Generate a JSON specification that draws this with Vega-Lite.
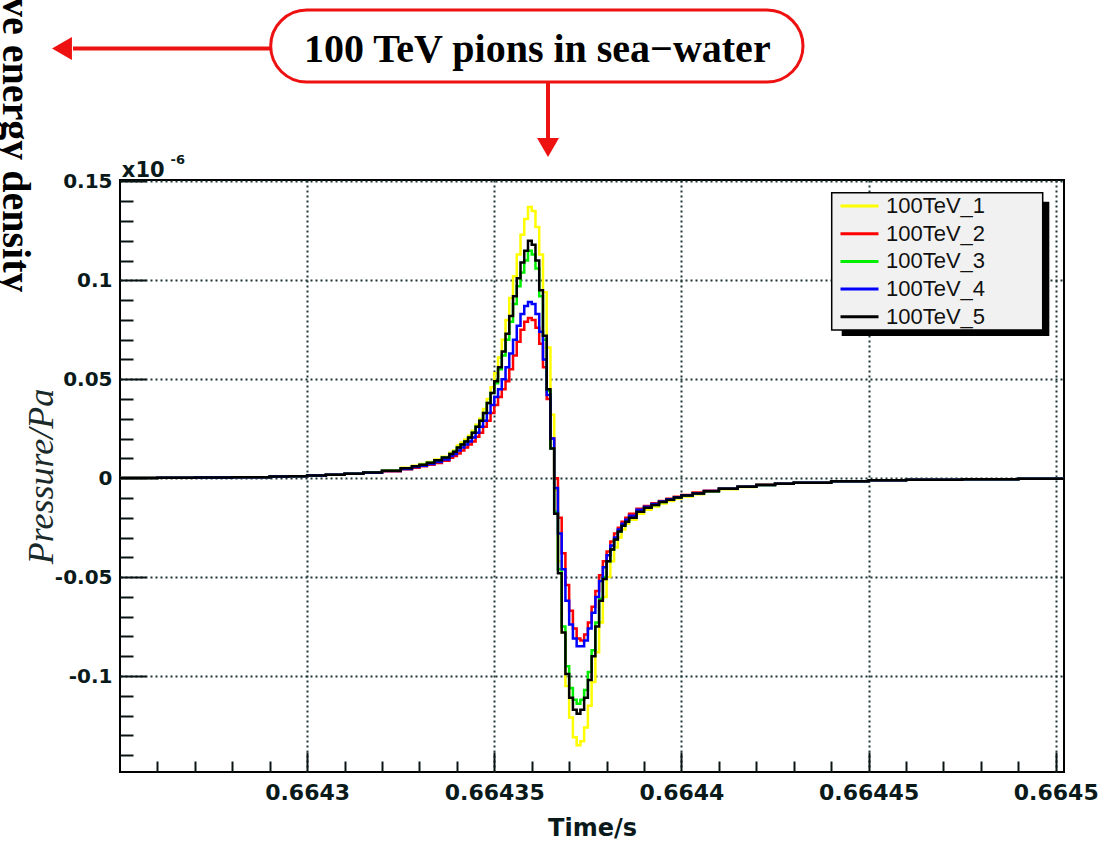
{
"$schema": "https://vega.github.io/schema/vega-lite/v6.json",
"width": 944,
"height": 592,
"autosize": {"type": "none"},
"padding": {"left": 120, "top": 180, "right": 35, "bottom": 70},
"background": "white",
"config": {"view": {"stroke": "#000000", "strokeWidth": 2}},
"resolve": {"axis": {"x": "independent", "y": "independent"}},
"layer": [
{
"data": {"values": [
{"t":0.66425,"100TeV_1":0.0001,"100TeV_2":0.0001,"100TeV_3":0.0001,"100TeV_4":0.0001,"100TeV_5":0.0001},
{"t":0.66426,"100TeV_1":0.0002,"100TeV_2":0.0002,"100TeV_3":0.0002,"100TeV_4":0.0002,"100TeV_5":0.0002},
{"t":0.66427,"100TeV_1":0.0003,"100TeV_2":0.0003,"100TeV_3":0.0003,"100TeV_4":0.0003,"100TeV_5":0.0003},
{"t":0.66428,"100TeV_1":0.0005,"100TeV_2":0.0005,"100TeV_3":0.0005,"100TeV_4":0.0005,"100TeV_5":0.0005},
{"t":0.66429,"100TeV_1":0.0008,"100TeV_2":0.0008,"100TeV_3":0.0008,"100TeV_4":0.0008,"100TeV_5":0.0008},
{"t":0.664295,"100TeV_1":0.001,"100TeV_2":0.001,"100TeV_3":0.001,"100TeV_4":0.001,"100TeV_5":0.001},
{"t":0.6643,"100TeV_1":0.0013,"100TeV_2":0.0013,"100TeV_3":0.0013,"100TeV_4":0.0013,"100TeV_5":0.0013},
{"t":0.664305,"100TeV_1":0.0017,"100TeV_2":0.0017,"100TeV_3":0.0017,"100TeV_4":0.0017,"100TeV_5":0.0017},
{"t":0.66431,"100TeV_1":0.0022,"100TeV_2":0.0022,"100TeV_3":0.0022,"100TeV_4":0.0022,"100TeV_5":0.0022},
{"t":0.664315,"100TeV_1":0.003,"100TeV_2":0.0027,"100TeV_3":0.0029,"100TeV_4":0.0028,"100TeV_5":0.0029},
{"t":0.66432,"100TeV_1":0.004,"100TeV_2":0.0035,"100TeV_3":0.0038,"100TeV_4":0.0036,"100TeV_5":0.0038},
{"t":0.664325,"100TeV_1":0.0053,"100TeV_2":0.0045,"100TeV_3":0.005,"100TeV_4":0.0047,"100TeV_5":0.005},
{"t":0.664328,"100TeV_1":0.0063,"100TeV_2":0.0053,"100TeV_3":0.006,"100TeV_4":0.0056,"100TeV_5":0.006},
{"t":0.66433,"100TeV_1":0.0072,"100TeV_2":0.006,"100TeV_3":0.0068,"100TeV_4":0.0063,"100TeV_5":0.0068},
{"t":0.664332,"100TeV_1":0.0082,"100TeV_2":0.0068,"100TeV_3":0.0078,"100TeV_4":0.0072,"100TeV_5":0.0078},
{"t":0.664334,"100TeV_1":0.0094,"100TeV_2":0.0077,"100TeV_3":0.009,"100TeV_4":0.0082,"100TeV_5":0.009},
{"t":0.664336,"100TeV_1":0.0108,"100TeV_2":0.0088,"100TeV_3":0.0104,"100TeV_4":0.0095,"100TeV_5":0.0104},
{"t":0.664338,"100TeV_1":0.0128,"100TeV_2":0.0103,"100TeV_3":0.0122,"100TeV_4":0.0112,"100TeV_5":0.0122},
{"t":0.664339,"100TeV_1":0.014,"100TeV_2":0.0112,"100TeV_3":0.0133,"100TeV_4":0.0122,"100TeV_5":0.0133},
{"t":0.66434,"100TeV_1":0.0165,"100TeV_2":0.0125,"100TeV_3":0.0155,"100TeV_4":0.014,"100TeV_5":0.0155},
{"t":0.664341,"100TeV_1":0.018,"100TeV_2":0.014,"100TeV_3":0.017,"100TeV_4":0.0155,"100TeV_5":0.017},
{"t":0.664342,"100TeV_1":0.0195,"100TeV_2":0.0155,"100TeV_3":0.0185,"100TeV_4":0.017,"100TeV_5":0.0185},
{"t":0.664343,"100TeV_1":0.0215,"100TeV_2":0.017,"100TeV_3":0.0205,"100TeV_4":0.0185,"100TeV_5":0.0205},
{"t":0.664344,"100TeV_1":0.024,"100TeV_2":0.0185,"100TeV_3":0.023,"100TeV_4":0.0205,"100TeV_5":0.023},
{"t":0.664345,"100TeV_1":0.027,"100TeV_2":0.021,"100TeV_3":0.026,"100TeV_4":0.023,"100TeV_5":0.026},
{"t":0.664346,"100TeV_1":0.03,"100TeV_2":0.023,"100TeV_3":0.029,"100TeV_4":0.026,"100TeV_5":0.029},
{"t":0.664347,"100TeV_1":0.035,"100TeV_2":0.026,"100TeV_3":0.033,"100TeV_4":0.029,"100TeV_5":0.033},
{"t":0.664348,"100TeV_1":0.04,"100TeV_2":0.029,"100TeV_3":0.038,"100TeV_4":0.033,"100TeV_5":0.038},
{"t":0.664349,"100TeV_1":0.046,"100TeV_2":0.033,"100TeV_3":0.043,"100TeV_4":0.037,"100TeV_5":0.043},
{"t":0.66435,"100TeV_1":0.053,"100TeV_2":0.037,"100TeV_3":0.048,"100TeV_4":0.041,"100TeV_5":0.049},
{"t":0.664351,"100TeV_1":0.061,"100TeV_2":0.041,"100TeV_3":0.055,"100TeV_4":0.045,"100TeV_5":0.056},
{"t":0.664352,"100TeV_1":0.07,"100TeV_2":0.045,"100TeV_3":0.062,"100TeV_4":0.05,"100TeV_5":0.064},
{"t":0.664353,"100TeV_1":0.08,"100TeV_2":0.049,"100TeV_3":0.07,"100TeV_4":0.056,"100TeV_5":0.073},
{"t":0.664354,"100TeV_1":0.091,"100TeV_2":0.055,"100TeV_3":0.079,"100TeV_4":0.063,"100TeV_5":0.082},
{"t":0.664355,"100TeV_1":0.102,"100TeV_2":0.062,"100TeV_3":0.088,"100TeV_4":0.07,"100TeV_5":0.092},
{"t":0.664356,"100TeV_1":0.113,"100TeV_2":0.069,"100TeV_3":0.097,"100TeV_4":0.077,"100TeV_5":0.101},
{"t":0.664357,"100TeV_1":0.123,"100TeV_2":0.075,"100TeV_3":0.104,"100TeV_4":0.083,"100TeV_5":0.109},
{"t":0.664358,"100TeV_1":0.131,"100TeV_2":0.079,"100TeV_3":0.11,"100TeV_4":0.087,"100TeV_5":0.115},
{"t":0.664359,"100TeV_1":0.137,"100TeV_2":0.081,"100TeV_3":0.115,"100TeV_4":0.089,"100TeV_5":0.12},
{"t":0.66436,"100TeV_1":0.135,"100TeV_2":0.08,"100TeV_3":0.113,"100TeV_4":0.088,"100TeV_5":0.118},
{"t":0.664361,"100TeV_1":0.127,"100TeV_2":0.076,"100TeV_3":0.106,"100TeV_4":0.083,"100TeV_5":0.11},
{"t":0.664362,"100TeV_1":0.113,"100TeV_2":0.068,"100TeV_3":0.092,"100TeV_4":0.074,"100TeV_5":0.095},
{"t":0.664363,"100TeV_1":0.094,"100TeV_2":0.056,"100TeV_3":0.07,"100TeV_4":0.06,"100TeV_5":0.072},
{"t":0.664364,"100TeV_1":0.066,"100TeV_2":0.04,"100TeV_3":0.044,"100TeV_4":0.042,"100TeV_5":0.045},
{"t":0.664365,"100TeV_1":0.032,"100TeV_2":0.02,"100TeV_3":0.015,"100TeV_4":0.02,"100TeV_5":0.015},
{"t":0.664366,"100TeV_1":-0.006,"100TeV_2":0.0,"100TeV_3":-0.017,"100TeV_4":-0.005,"100TeV_5":-0.018},
{"t":0.664367,"100TeV_1":-0.042,"100TeV_2":-0.02,"100TeV_3":-0.046,"100TeV_4":-0.028,"100TeV_5":-0.048},
{"t":0.664368,"100TeV_1":-0.078,"100TeV_2":-0.038,"100TeV_3":-0.075,"100TeV_4":-0.046,"100TeV_5":-0.078},
{"t":0.664369,"100TeV_1":-0.105,"100TeV_2":-0.054,"100TeV_3":-0.095,"100TeV_4":-0.062,"100TeV_5":-0.099},
{"t":0.66437,"100TeV_1":-0.121,"100TeV_2":-0.067,"100TeV_3":-0.106,"100TeV_4":-0.074,"100TeV_5":-0.111},
{"t":0.664371,"100TeV_1":-0.131,"100TeV_2":-0.076,"100TeV_3":-0.112,"100TeV_4":-0.081,"100TeV_5":-0.117},
{"t":0.664372,"100TeV_1":-0.135,"100TeV_2":-0.081,"100TeV_3":-0.114,"100TeV_4":-0.085,"100TeV_5":-0.119},
{"t":0.664373,"100TeV_1":-0.133,"100TeV_2":-0.082,"100TeV_3":-0.112,"100TeV_4":-0.085,"100TeV_5":-0.117},
{"t":0.664374,"100TeV_1":-0.126,"100TeV_2":-0.079,"100TeV_3":-0.107,"100TeV_4":-0.082,"100TeV_5":-0.111},
{"t":0.664375,"100TeV_1":-0.115,"100TeV_2":-0.073,"100TeV_3":-0.098,"100TeV_4":-0.076,"100TeV_5":-0.102},
{"t":0.664376,"100TeV_1":-0.103,"100TeV_2":-0.065,"100TeV_3":-0.087,"100TeV_4":-0.068,"100TeV_5":-0.09},
{"t":0.664377,"100TeV_1":-0.088,"100TeV_2":-0.057,"100TeV_3":-0.073,"100TeV_4":-0.06,"100TeV_5":-0.075},
{"t":0.664378,"100TeV_1":-0.073,"100TeV_2":-0.049,"100TeV_3":-0.061,"100TeV_4":-0.052,"100TeV_5":-0.062},
{"t":0.664379,"100TeV_1":-0.06,"100TeV_2":-0.042,"100TeV_3":-0.05,"100TeV_4":-0.045,"100TeV_5":-0.051},
{"t":0.66438,"100TeV_1":-0.05,"100TeV_2":-0.037,"100TeV_3":-0.042,"100TeV_4":-0.039,"100TeV_5":-0.042},
{"t":0.664381,"100TeV_1":-0.042,"100TeV_2":-0.032,"100TeV_3":-0.036,"100TeV_4":-0.034,"100TeV_5":-0.036},
{"t":0.664382,"100TeV_1":-0.035,"100TeV_2":-0.028,"100TeV_3":-0.031,"100TeV_4":-0.03,"100TeV_5":-0.031},
{"t":0.664383,"100TeV_1":-0.03,"100TeV_2":-0.025,"100TeV_3":-0.027,"100TeV_4":-0.026,"100TeV_5":-0.027},
{"t":0.664384,"100TeV_1":-0.026,"100TeV_2":-0.022,"100TeV_3":-0.024,"100TeV_4":-0.023,"100TeV_5":-0.024},
{"t":0.664385,"100TeV_1":-0.023,"100TeV_2":-0.02,"100TeV_3":-0.022,"100TeV_4":-0.021,"100TeV_5":-0.022},
{"t":0.664386,"100TeV_1":-0.021,"100TeV_2":-0.018,"100TeV_3":-0.02,"100TeV_4":-0.019,"100TeV_5":-0.02},
{"t":0.664388,"100TeV_1":-0.018,"100TeV_2":-0.0155,"100TeV_3":-0.017,"100TeV_4":-0.016,"100TeV_5":-0.017},
{"t":0.66439,"100TeV_1":-0.016,"100TeV_2":-0.014,"100TeV_3":-0.015,"100TeV_4":-0.0145,"100TeV_5":-0.015},
{"t":0.664392,"100TeV_1":-0.0143,"100TeV_2":-0.0127,"100TeV_3":-0.0135,"100TeV_4":-0.013,"100TeV_5":-0.0135},
{"t":0.664394,"100TeV_1":-0.0128,"100TeV_2":-0.0115,"100TeV_3":-0.0121,"100TeV_4":-0.0118,"100TeV_5":-0.0121},
{"t":0.664396,"100TeV_1":-0.0115,"100TeV_2":-0.0104,"100TeV_3":-0.0109,"100TeV_4":-0.0107,"100TeV_5":-0.0109},
{"t":0.664398,"100TeV_1":-0.0103,"100TeV_2":-0.0094,"100TeV_3":-0.0098,"100TeV_4":-0.0096,"100TeV_5":-0.0098},
{"t":0.6644,"100TeV_1":-0.0092,"100TeV_2":-0.0085,"100TeV_3":-0.0088,"100TeV_4":-0.0086,"100TeV_5":-0.0088},
{"t":0.664403,"100TeV_1":-0.0081,"100TeV_2":-0.0073,"100TeV_3":-0.0078,"100TeV_4":-0.0076,"100TeV_5":-0.0078},
{"t":0.664406,"100TeV_1":-0.0069,"100TeV_2":-0.0063,"100TeV_3":-0.0066,"100TeV_4":-0.0065,"100TeV_5":-0.0066},
{"t":0.66441,"100TeV_1":-0.0056,"100TeV_2":-0.0052,"100TeV_3":-0.0054,"100TeV_4":-0.0053,"100TeV_5":-0.0054},
{"t":0.664415,"100TeV_1":-0.0044,"100TeV_2":-0.0042,"100TeV_3":-0.0043,"100TeV_4":-0.0043,"100TeV_5":-0.0043},
{"t":0.66442,"100TeV_1":-0.0035,"100TeV_2":-0.0033,"100TeV_3":-0.0034,"100TeV_4":-0.0034,"100TeV_5":-0.0034},
{"t":0.664425,"100TeV_1":-0.0028,"100TeV_2":-0.0027,"100TeV_3":-0.0028,"100TeV_4":-0.0028,"100TeV_5":-0.0028},
{"t":0.66443,"100TeV_1":-0.0023,"100TeV_2":-0.0023,"100TeV_3":-0.0023,"100TeV_4":-0.0023,"100TeV_5":-0.0023},
{"t":0.66444,"100TeV_1":-0.0016,"100TeV_2":-0.0016,"100TeV_3":-0.0016,"100TeV_4":-0.0016,"100TeV_5":-0.0016},
{"t":0.66445,"100TeV_1":-0.0011,"100TeV_2":-0.0011,"100TeV_3":-0.0011,"100TeV_4":-0.0011,"100TeV_5":-0.0011},
{"t":0.66446,"100TeV_1":-0.0008,"100TeV_2":-0.0008,"100TeV_3":-0.0008,"100TeV_4":-0.0008,"100TeV_5":-0.0008},
{"t":0.664475,"100TeV_1":-0.0005,"100TeV_2":-0.0005,"100TeV_3":-0.0005,"100TeV_4":-0.0005,"100TeV_5":-0.0005},
{"t":0.66449,"100TeV_1":-0.0003,"100TeV_2":-0.0003,"100TeV_3":-0.0003,"100TeV_4":-0.0003,"100TeV_5":-0.0003},
{"t":0.6645022,"100TeV_1":-0.0002,"100TeV_2":-0.0002,"100TeV_3":-0.0002,"100TeV_4":-0.0002,"100TeV_5":-0.0002}
]},
"transform": [{"fold": ["100TeV_1","100TeV_2","100TeV_3","100TeV_4","100TeV_5"], "as": ["series","pressure"]}],
"mark": {"type": "line", "interpolate": "step-after", "strokeWidth": 2.5, "clip": true},
"encoding": {
"x": {"field": "t", "type": "quantitative",
"scale": {"domain": [0.66425, 0.6645022], "nice": false, "zero": false},
"axis": {
"orient": "bottom",
"values": [0.6643, 0.66435, 0.6644, 0.66445, 0.6645],
"labelExpr": "format(datum.value, '.5~f')",
"grid": true, "gridColor": "#1e3535", "gridDash": [2,3], "gridWidth": 2,
"tickSize": -20, "tickColor": "#0a1414", "tickWidth": 2, "domain": false,
"labelFont": "DejaVu Sans", "labelFontWeight": "bold", "labelFontSize": 22, "labelColor": "#0a1a1a",
"labelPadding": 30, "labelOverlap": false, "labelFlush": false,
"title": "Time/s", "titleFont": "DejaVu Sans", "titleFontWeight": "bold", "titleFontSize": 24, "titleColor": "#0a1a1a", "titlePadding": 13
}},
"y": {"field": "pressure", "type": "quantitative",
"scale": {"domain": [-0.1485, 0.1507], "nice": false, "zero": false},
"axis": {
"orient": "left",
"values": [-0.1, -0.05, 0, 0.05, 0.1, 0.15],
"labelExpr": "datum.value < 0 ? '-' + format(-datum.value, '.2~f') : format(datum.value, '.2~f')",
"grid": true, "gridColor": "#1e3535", "gridDash": [2,3], "gridWidth": 2,
"tickSize": -26, "tickColor": "#0a1414", "tickWidth": 2, "domain": false,
"labelFont": "DejaVu Sans", "labelFontWeight": "bold", "labelFontSize": 20, "labelColor": "#0a1a1a",
"labelPadding": 34, "labelOverlap": false, "labelFlush": false,
"title": "Pressure/Pa", "titleFont": "Liberation Serif", "titleFontStyle": "italic", "titleFontWeight": "normal", "titleFontSize": 36, "titleColor": "#1a2a2a", "titlePadding": -6
}},
"color": {"field": "series", "type": "nominal",
"scale": {"domain": ["100TeV_1","100TeV_2","100TeV_3","100TeV_4","100TeV_5"], "range": ["#ffff00","#ff0000","#00ee00","#0000ff","#000000"]},
"legend": {"orient": "none", "legendX": 719, "legendY": 14, "title": null, "padding": 0,
"symbolType": "stroke", "symbolSize": 1444, "symbolStrokeWidth": 3, "clipHeight": 24,
"labelFont": "Liberation Sans", "labelFontSize": 22, "labelColor": "#111111", "labelOffset": 6, "rowPadding": 3.7}
}
}
},
{
"data": {"values": [{}]},
"mark": {"type": "rect", "fill": "#000000"},
"encoding": {
"x": {"datum": 0.66444281, "type": "quantitative",
"axis": {"orient": "bottom", "values": [0.66426,0.66427,0.66428,0.66429,0.66431,0.66432,0.66433,0.66434,0.66436,0.66437,0.66438,0.66439,0.66441,0.66442,0.66443,0.66444,0.66446,0.66447,0.66448,0.66449],
"labels": false, "grid": false, "domain": false, "title": null, "tickSize": -11, "tickColor": "#0a1414", "tickWidth": 2}},
"x2": {"datum": 0.66449828},
"y": {"datum": 0.13973, "type": "quantitative",
"axis": {"orient": "left", "values": [-0.14,-0.13,-0.12,-0.11,-0.09,-0.08,-0.07,-0.06,-0.04,-0.03,-0.02,-0.01,0.01,0.02,0.03,0.04,0.06,0.07,0.08,0.09,0.11,0.12,0.13,0.14],
"labels": false, "grid": false, "domain": false, "title": null, "tickSize": -13, "tickColor": "#0a1414", "tickWidth": 2}},
"y2": {"datum": 0.07186}
}
},
{
"data": {"values": [{}]},
"mark": {"type": "rect", "fill": "#f1f1f1", "stroke": "#000000", "strokeWidth": 1.5},
"encoding": {
"x": {"datum": 0.66444014, "type": "quantitative", "axis": null},
"x2": {"datum": 0.66449651},
"y": {"datum": 0.14428, "type": "quantitative", "axis": null},
"y2": {"datum": 0.07489}
}
},
{
"data": {"values": [{}]},
"mark": {"type": "rect", "cornerRadius": 36, "fill": "#ffffff", "stroke": "#ee1111", "strokeWidth": 3},
"encoding": {
"x": {"datum": 0.66429026, "type": "quantitative", "axis": null},
"x2": {"datum": 0.66443247},
"y": {"datum": 0.2366, "type": "quantitative", "axis": null},
"y2": {"datum": 0.2002}
}
},
{
"data": {"values": [{}]},
"mark": {"type": "text", "text": "100 TeV pions in sea\u2212water", "font": "Liberation Serif", "fontWeight": "bold", "fontSize": 40, "align": "center", "baseline": "alphabetic", "color": "#000000"},
"encoding": {
"x": {"datum": 0.6643615, "type": "quantitative", "axis": null},
"y": {"datum": 0.2105, "type": "quantitative", "axis": null}
}
},
{
"data": {"values": [{}]},
"mark": {"type": "rule", "color": "#ee1111", "strokeWidth": 4},
"encoding": {
"x": {"datum": 0.66423744, "type": "quantitative", "axis": null},
"x2": {"datum": 0.66429026},
"y": {"datum": 0.2172, "type": "quantitative", "axis": null}
}
},
{
"data": {"values": [{}]},
"mark": {"type": "point", "shape": "triangle-left", "filled": true, "size": 529, "color": "#ee1111", "opacity": 1},
"encoding": {
"x": {"datum": 0.6642345, "type": "quantitative", "axis": null},
"y": {"datum": 0.2172, "type": "quantitative", "axis": null}
}
},
{
"data": {"values": [{}]},
"mark": {"type": "rule", "color": "#ee1111", "strokeWidth": 4},
"encoding": {
"x": {"datum": 0.66436435, "type": "quantitative", "axis": null},
"y": {"datum": 0.2002, "type": "quantitative", "axis": null},
"y2": {"datum": 0.1709}
}
},
{
"data": {"values": [{}]},
"mark": {"type": "point", "shape": "triangle-down", "filled": true, "size": 484, "color": "#ee1111", "opacity": 1},
"encoding": {
"x": {"datum": 0.66436435, "type": "quantitative", "axis": null},
"y": {"datum": 0.16713, "type": "quantitative", "axis": null}
}
},
{
"data": {"values": [{}]},
"mark": {"type": "text", "text": "ve energy density", "font": "Liberation Serif", "fontWeight": "bold", "fontSize": 40, "angle": 90, "align": "left", "baseline": "alphabetic", "color": "#000000"},
"encoding": {
"x": {"datum": 0.66421874, "type": "quantitative", "axis": null},
"y": {"datum": 0.24319, "type": "quantitative", "axis": null}
}
},
{
"data": {"values": [{}]},
"mark": {"type": "text", "text": "x10", "font": "DejaVu Sans", "fontWeight": "bold", "fontSize": 21, "align": "left", "baseline": "alphabetic", "color": "#0a1a1a"},
"encoding": {
"x": {"datum": 0.6642505, "type": "quantitative", "axis": null},
"y": {"datum": 0.1522, "type": "quantitative", "axis": null}
}
},
{
"data": {"values": [{}]},
"mark": {"type": "text", "text": "-6", "font": "DejaVu Sans", "fontWeight": "bold", "fontSize": 13, "align": "left", "baseline": "alphabetic", "color": "#0a1a1a"},
"encoding": {
"x": {"datum": 0.6642635, "type": "quantitative", "axis": null},
"y": {"datum": 0.1588, "type": "quantitative", "axis": null}
}
}
]
}
